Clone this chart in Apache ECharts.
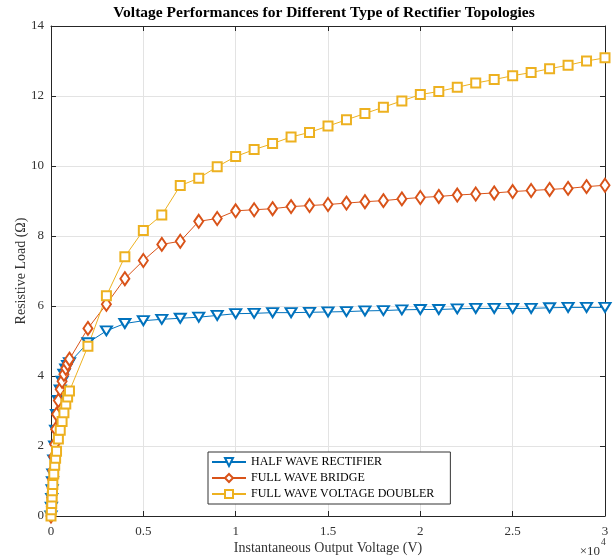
<!DOCTYPE html>
<html>
<head>
<meta charset="utf-8">
<script src="https://cdn.jsdelivr.net/npm/echarts@6/dist/echarts.min.js"></script>
<style>
html,body{margin:0;padding:0;background:#fff;}
#chart{width:614px;height:560px;}
</style>
</head>
<body>
<div id="chart"></div>
<script>
// ---- data ----
const xValues = [0, 20, 40, 60, 80, 100, 150, 200, 250, 300, 400, 500, 600, 700, 800, 900, 1000,
  2000, 3000, 4000, 5000, 6000, 7000, 8000, 9000, 10000, 11000, 12000, 13000, 14000, 15000,
  16000, 17000, 18000, 19000, 20000, 21000, 22000, 23000, 24000, 25000, 26000, 27000, 28000, 29000, 30000];

const halfWave = [0, 0.25, 0.5, 0.75, 0.98, 1.2, 1.6, 2.0, 2.45, 2.9, 3.3, 3.6, 3.85, 4.05, 4.2, 4.3, 4.38,
  4.95, 5.29, 5.5, 5.58, 5.62, 5.65, 5.68, 5.73, 5.78, 5.79, 5.81, 5.81, 5.82, 5.83,
  5.84, 5.86, 5.87, 5.89, 5.9, 5.9, 5.92, 5.93, 5.93, 5.93, 5.93, 5.95, 5.96, 5.96, 5.96];

const fullBridge = [0, 0.27, 0.53, 0.8, 1.05, 1.3, 1.7, 2.05, 2.48, 2.91, 3.3, 3.62, 3.85, 4.05, 4.22, 4.35, 4.48,
  5.36, 6.05, 6.78, 7.3, 7.76, 7.85, 8.42, 8.5, 8.72, 8.75, 8.78, 8.84, 8.87, 8.9,
  8.94, 8.98, 9.01, 9.06, 9.1, 9.13, 9.17, 9.2, 9.23, 9.27, 9.3, 9.33, 9.36, 9.41, 9.45];

const voltageDoubler = [0, 0.18, 0.36, 0.54, 0.72, 0.9, 1.2, 1.45, 1.65, 1.85, 2.2, 2.45, 2.7, 2.95, 3.2, 3.4, 3.57,
  4.85, 6.29, 7.41, 8.16, 8.6, 9.44, 9.65, 9.98, 10.27, 10.47, 10.64, 10.83, 10.96, 11.14,
  11.32, 11.5, 11.68, 11.86, 12.04, 12.13, 12.25, 12.37, 12.47, 12.58, 12.67, 12.78, 12.88, 13.0, 13.09];

const seriesNames = ['HALF WAVE RECTIFIER', 'FULL WAVE BRIDGE', 'FULL WAVE VOLTAGE DOUBLER'];
const xTickLabels = ['0', '0.5', '1', '1.5', '2', '2.5', '3'];
const titleText = 'Voltage Performances for Different Type of Rectifier Topologies';
const xName = 'Instantaneous Output Voltage (V)';
const yName = 'Resistive Load (Ω)';

// ---- chart ----
const FONT = '"Liberation Serif", "Times New Roman", serif';
const chart = echarts.init(document.getElementById('chart'), null, {renderer: 'canvas'});
const pairs = ys => xValues.map((x, i) => [x, ys[i]]);
const axisLine = {show: true, onZero: false, lineStyle: {color: '#262626', width: 1}};
const tickIn = {show: true, inside: true, length: 5, lineStyle: {color: '#262626'}};

const option = {
  animation: false,
  backgroundColor: '#fff',
  grid: {left: 51, right: 9, top: 26, bottom: 43, containLabel: false},
  graphic: [
    {type: 'text', x: 324, y: 5, style: {text: titleText, font: 'bold 15.5px ' + FONT, fill: '#000', textAlign: 'center', textVerticalAlign: 'top'}},
    {type: 'text', x: 600, y: 552, style: {text: '×10', font: '13px ' + FONT, fill: '#333', textAlign: 'right', textVerticalAlign: 'middle'}},
    {type: 'text', x: 601, y: 542, style: {text: '4', font: '9.5px ' + FONT, fill: '#333', textAlign: 'left', textVerticalAlign: 'middle'}}
  ],
  legend: {
    orient: 'vertical', left: 208, top: 452,
    data: seriesNames,
    itemWidth: 34, itemHeight: 10, itemGap: 4,
    padding: [4, 16, 4, 3],
    backgroundColor: '#fff', borderColor: '#333', borderWidth: 1,
    textStyle: {fontFamily: FONT, fontSize: 12, color: '#000'}
  },
  xAxis: [
    {type: 'value', min: 0, max: 30000, interval: 5000, position: 'bottom',
      name: xName, nameLocation: 'middle', nameGap: 25, nameMoveOverlap: false,
      nameTextStyle: {fontFamily: FONT, fontSize: 14, color: '#333'},
      axisLine: axisLine, axisTick: tickIn,
      axisLabel: {margin: 9, fontFamily: FONT, fontSize: 13, color: '#333',
        formatter: v => xTickLabels[Math.round(v / 5000)]},
      splitLine: {show: true, lineStyle: {color: '#e3e3e3', width: 1}}},
    {type: 'value', min: 0, max: 30000, interval: 5000, position: 'top',
      axisLine: axisLine, axisTick: tickIn, axisLabel: {show: false}, splitLine: {show: false}}
  ],
  yAxis: [
    {type: 'value', min: 0, max: 14, interval: 2, position: 'left',
      name: yName, nameLocation: 'middle', nameGap: 23, nameMoveOverlap: false,
      nameTextStyle: {fontFamily: FONT, fontSize: 14, color: '#333'},
      axisLine: axisLine, axisTick: tickIn,
      axisLabel: {margin: 7, fontFamily: FONT, fontSize: 13, color: '#333'},
      splitLine: {show: true, lineStyle: {color: '#e3e3e3', width: 1}}},
    {type: 'value', min: 0, max: 14, interval: 2, position: 'right',
      axisLine: axisLine, axisTick: tickIn, axisLabel: {show: false}, splitLine: {show: false}}
  ],
  series: [
    {name: seriesNames[0], type: 'line', data: pairs(halfWave),
      symbol: 'emptyTriangle', symbolRotate: 180, symbolSize: [11, 9],
      color: '#0072BD', lineStyle: {width: 1, color: '#0072BD'},
      itemStyle: {color: '#0072BD', borderWidth: 1}},
    {name: seriesNames[1], type: 'line', data: pairs(fullBridge),
      symbol: 'emptyDiamond', symbolSize: [9, 13],
      color: '#D95319', lineStyle: {width: 1, color: '#D95319'},
      itemStyle: {color: '#D95319', borderWidth: 1}},
    {name: seriesNames[2], type: 'line', data: pairs(voltageDoubler),
      symbol: 'emptyRect', symbolSize: 9,
      color: '#EDB120', lineStyle: {width: 1, color: '#EDB120'},
      itemStyle: {color: '#EDB120', borderWidth: 1}}
  ]
};
chart.setOption(option);
</script>
</body>
</html>
